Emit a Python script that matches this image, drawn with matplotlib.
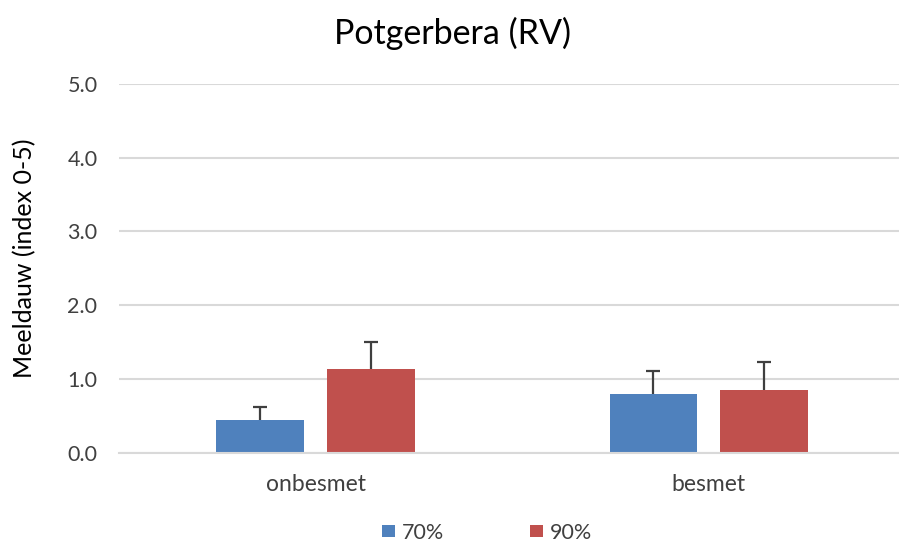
import numpy as np
import matplotlib
matplotlib.use("Agg")
import matplotlib.pyplot as plt

categories = ["onbesmet", "besmet"]
series_names = ["70%", "90%"]
values_70 = [0.45, 0.80]
values_90 = [1.13, 0.85]
errors_70 = [0.17, 0.31]
errors_90 = [0.37, 0.38]
y_ticks = [0.0, 1.0, 2.0, 3.0, 4.0, 5.0]

plt.rcParams["font.family"] = ["Lato", "DejaVu Sans"]

fig = plt.figure(figsize=(8.99, 5.44), dpi=100)
W, H = 899, 544
# axes in pixel coords: left 119, right 899, top 84, bottom 452.7
ax = fig.add_axes([119 / W, 1 - 452.7 / H, (899 - 119) / W, (452.7 - 84) / H])

x = np.arange(len(categories))
bw = 0.223
off = 0.141
ax.bar(x - off, values_70, bw, color="#4F81BD", label=series_names[0], zorder=3)
ax.bar(x + off, values_90, bw, color="#C0504D", label=series_names[1], zorder=3)
# only the upper half of the error bar shows; lower cap sits behind the bar
err_kw = dict(fmt="none", ecolor="#3f3f3f", elinewidth=1.6, capsize=5, capthick=1.6, zorder=2)
ax.errorbar(x - off, values_70, yerr=[errors_70, errors_70], **err_kw)
ax.errorbar(x + off, values_90, yerr=[errors_90, errors_90], **err_kw)

ax.set_xlim(-0.5, 1.5 - (905.5 - 899) / 394)
ax.set_ylim(0, 5)
ax.set_yticks(y_ticks)
ax.set_yticklabels([f"{v:.1f}" for v in y_ticks], fontsize=15.5, color="#404040")
ax.set_xticks(x)
ax.set_xticklabels(categories, fontsize=16.5, color="#404040")
ax.tick_params(axis="y", length=0, pad=15.5)
ax.tick_params(axis="x", length=0, pad=15)
ax.yaxis.grid(True, color="#d9d9d9", linewidth=1.5, zorder=0)
for s in ["top", "right", "left"]:
    ax.spines[s].set_visible(False)
ax.spines["bottom"].set_color("#d9d9d9")
ax.spines["bottom"].set_linewidth(1.5)
ax.spines["bottom"].set_zorder(4)

ax.set_ylabel("Meeldauw (index 0-5)", fontsize=18, color="#000000", va="center")
ax.yaxis.set_label_coords((25 - 119) / 780, (452.7 - 258) / 368.7)
fig.text(453 / W, 1 - 33 / H, "Potgerbera (RV)", fontsize=24.5, ha="center", va="center")

fig.legend(loc="center", bbox_to_anchor=(487 / W, 1 - 533 / H), ncol=2, frameon=False,
           fontsize=15.5, handlelength=0.6, handleheight=0.5, handletextpad=0.3,
           columnspacing=4.0, labelcolor="#404040")

fig.savefig("out.png", dpi=100)
